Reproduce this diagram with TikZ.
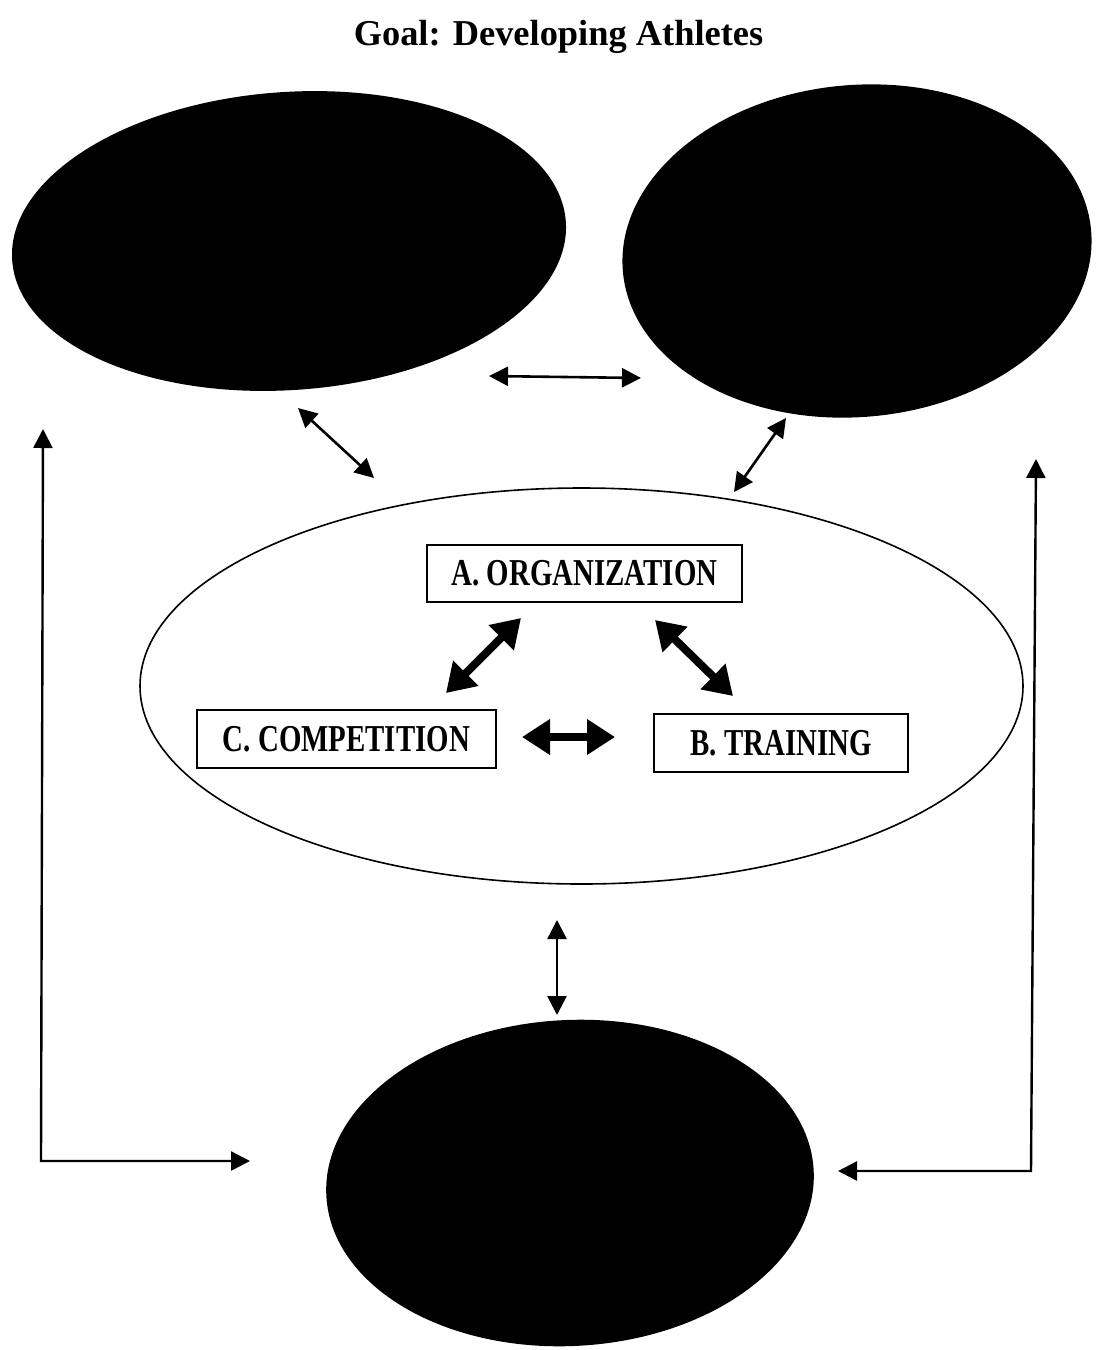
\documentclass[tikz,border=0pt]{standalone}
\usepackage{fontspec}
\setmainfont{Liberation Serif}
\usetikzlibrary{arrows.meta,shapes.geometric}
\newcommand\bxt[1]{\scalebox{0.76}[1]{\fontsize{38}{38}\selectfont\bfseries #1}}
\begin{document}
\begin{tikzpicture}[x=1pt,y=-1pt,
  blob/.style={ellipse, fill=black, draw=none, inner sep=0pt},
  ring/.style={ellipse, draw=black, line width=1.6pt, inner sep=0pt},
  labbox/.style={draw=black, line width=1.6pt, inner sep=0pt, fill=white},
  thinarr/.style={line width=2.6pt, {Triangle[length=19pt,width=19pt]}-{Triangle[length=19pt,width=19pt]}},
  bigarr/.style={line width=8pt, {Triangle[length=28pt,width=34pt]}-{Triangle[length=28pt,width=34pt]}},
  elbow/.style={line width=2.4pt, {Triangle[length=19pt,width=19pt]}-{Triangle[length=19pt,width=19pt]}}]
\useasboundingbox (0,0) rectangle (1107,1350);
\fill[white] (0,0) rectangle (1107,1350);

% title
\node[anchor=base, font=\fontsize{36.4}{40}\selectfont\bfseries] (title) at (558.5,45) {Goal: Developing Athletes};

% black ellipses
\node[blob, minimum width=555pt, minimum height=298pt, rotate=4] (tl) at (289,241) {};
\node[blob, minimum width=470pt, minimum height=332pt, rotate=5] (tr) at (857,251) {};
\node[blob, minimum width=488pt, minimum height=326pt, rotate=3] (bt) at (570,1183) {};

% central ellipse
\node[ring, minimum width=883pt, minimum height=396pt] (mid) at (581.5,686) {};

% boxes
\node[labbox, minimum width=315pt, minimum height=57pt] (A) at (584.5,573.5) {\bxt{A. ORGANIZATION}};
\node[labbox, minimum width=299pt, minimum height=58pt] (C) at (346.5,739) {\bxt{C. COMPETITION}};
\node[labbox, minimum width=254pt, minimum height=58pt] (B) at (781,743) {\bxt{B. TRAINING}};

% arrow end points
\coordinate (h1) at (489,376);  \coordinate (h2) at (641,378);
\coordinate (l1) at (298,408);  \coordinate (l2) at (374,478);
\coordinate (r1) at (786,418);  \coordinate (r2) at (734,492);
\coordinate (v1) at (557,920);  \coordinate (v2) at (557,1015);
\coordinate (ac1) at (521,618); \coordinate (ac2) at (446,693);
\coordinate (ab1) at (655,620); \coordinate (ab2) at (733,696);
\coordinate (cb1) at (522,737); \coordinate (cb2) at (615,737);
\coordinate (L1) at (43,429);   \coordinate (Lc) at (41,1161); \coordinate (L2) at (250,1161);
\coordinate (R1) at (1036,459); \coordinate (Rc) at (1031,1171); \coordinate (R2) at (838,1171);

% thin arrows
\draw[thinarr] (h1) -- (h2);
\draw[thinarr] (l1) -- (l2);
\draw[thinarr] (r1) -- (r2);
\draw[thinarr] (v1) -- (v2);

% thick arrows
\draw[bigarr] (ac1) -- (ac2);
\draw[bigarr] (ab1) -- (ab2);
\draw[bigarr] (cb1) -- (cb2);

% elbow arrows
\draw[elbow] (L1) -- (Lc) -- (L2);
\draw[elbow] (R1) -- (Rc) -- (R2);
\end{tikzpicture}
\end{document}
